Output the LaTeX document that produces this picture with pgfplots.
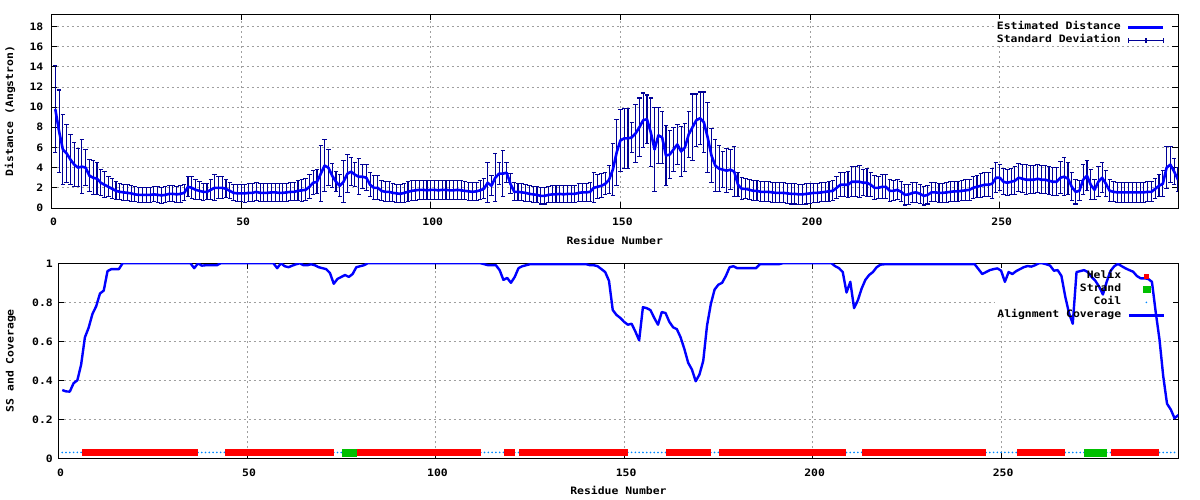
\documentclass[border=0pt]{standalone}
\usepackage{pgfplots}
\pgfplotsset{compat=1.18}
\usepackage{pgfplotstable}
\usepackage{fontspec}
\setmainfont{DejaVu Sans Mono}[FakeStretch=1.12]
\definecolor{errblue}{RGB}{0,0,150}
\definecolor{ssred}{RGB}{255,0,0}
\definecolor{ssgreen}{RGB}{0,192,0}
\definecolor{coilblue}{RGB}{0,136,255}
\definecolor{lblue}{RGB}{0,0,255}
\newcommand{\gpfont}{\bfseries\fontsize{10.2}{12}\selectfont}
\pgfplotsset{
 lineleg/.style={legend image code/.code={\draw[##1] (0pt,0pt) -- (35pt,0pt);}},
 errleg/.style={legend image code/.code={\draw[##1] (0pt,0pt) -- (35pt,0pt); \draw[##1] (0pt,-2.5pt)--(0pt,2.5pt); \draw[##1] (17.5pt,-2.5pt)--(17.5pt,2.5pt); \draw[##1] (35pt,-2.5pt)--(35pt,2.5pt);}},
 markleg/.style={legend image code/.code={\draw[mark repeat=2,mark phase=2,##1] plot coordinates {(0pt,0pt)(17.5pt,0pt)(35pt,0pt)};}},
 gp/.style={
   scale only axis, axis line style={line width=0.9pt},
   tick align=inside, major tick length=5.5pt, every tick/.style={black,line width=0.8pt},
   grid=major, major grid style={draw=gray!75, dash pattern=on 2pt off 3pt, line width=0.7pt},
   tick label style={font=\gpfont},
   label style={font=\gpfont},
   /pgf/number format/assume math mode=true,
   xticklabel style={inner sep=0pt, yshift=-10pt, xshift=2pt},
   legend cell align=right, legend plot pos=right,
   legend style={draw=none, fill=none, inner sep=0pt, column sep=6.5pt, row sep=0pt, font=\gpfont,
     nodes={inner sep=0pt, text height=9pt, text depth=4pt},
     at={(axis description cs:1,1)}, anchor=north east, xshift=-13pt, yshift=-6.4pt},
   set layers,
 }
}
\pgfplotstableread{
x y e
1 9.8 4.3
2 7.6 4.1
3 5.8 3.5
4 5.4 2.9
5 4.8 2.5
6 4.3 2.2
7 4.0 1.9
8 4.1 2.7
9 4.0 1.8
10 3.2 1.6
11 3.0 1.7
12 2.9 1.6
13 2.5 1.3
14 2.3 1.3
15 2.1 1.0
16 1.9 1.0
17 1.7 0.9
18 1.6 0.8
19 1.55 0.8
20 1.5 0.8
21 1.45 0.8
22 1.35 0.75
23 1.3 0.75
24 1.3 0.75
25 1.3 0.75
26 1.3 0.75
27 1.35 0.75
28 1.3 0.8
29 1.25 0.8
30 1.3 0.8
31 1.4 0.8
32 1.4 0.8
33 1.35 0.8
34 1.4 0.85
35 1.5 0.8
36 2.1 1.0
37 2.0 1.1
38 1.8 1.0
39 1.7 0.9
40 1.6 0.85
41 1.6 0.8
42 1.8 1.0
43 2.0 1.3
44 2.0 1.1
45 2.0 1.1
46 1.9 0.9
47 1.7 0.8
48 1.5 0.8
49 1.45 0.85
50 1.45 0.85
51 1.45 0.9
52 1.5 0.9
53 1.5 0.9
54 1.6 0.9
55 1.5 0.9
56 1.5 0.9
57 1.5 0.9
58 1.55 0.9
59 1.55 0.9
60 1.5 0.9
61 1.5 0.9
62 1.55 0.9
63 1.6 0.9
64 1.6 0.9
65 1.7 1.0
66 1.75 1.1
67 1.8 1.1
68 2.1 1.2
69 2.5 1.2
70 2.6 1.2
71 3.4 2.8
72 4.2 2.6
73 4.0 1.8
74 3.2 1.2
75 2.6 1.0
76 2.2 1.1
77 2.6 2.1
78 3.4 1.9
79 3.6 1.4
80 3.3 1.2
81 3.1 1.8
82 3.1 1.2
83 3.0 1.3
84 2.3 1.2
85 2.0 1.2
86 2.0 1.2
87 1.7 1.0
88 1.6 1.0
89 1.6 1.0
90 1.5 0.9
91 1.45 0.9
92 1.4 0.9
93 1.5 0.95
94 1.6 1.0
95 1.7 1.0
96 1.75 1.0
97 1.8 0.95
98 1.8 0.95
99 1.75 0.95
100 1.8 0.95
101 1.8 0.95
102 1.75 0.95
103 1.8 0.95
104 1.8 0.95
105 1.75 0.95
106 1.75 0.95
107 1.8 0.95
108 1.75 0.95
109 1.7 0.9
110 1.65 0.9
111 1.6 0.9
112 1.65 0.9
113 1.75 0.95
114 1.9 1.0
115 2.5 2.0
116 2.2 1.0
117 3.0 2.4
118 3.4 1.1
119 3.4 2.3
120 3.5 1.0
121 2.4 1.0
122 1.6 0.9
123 1.6 0.85
124 1.55 0.85
125 1.5 0.85
126 1.4 0.8
127 1.35 0.8
128 1.3 0.8
129 1.2 0.8
130 1.2 0.8
131 1.3 0.8
132 1.35 0.85
133 1.35 0.85
134 1.4 0.85
135 1.35 0.85
136 1.4 0.85
137 1.4 0.85
138 1.4 0.85
139 1.5 0.9
140 1.55 0.9
141 1.55 0.9
142 1.6 0.95
143 2.0 1.5
144 2.1 1.2
145 2.2 1.2
146 2.4 1.1
147 2.8 1.4
148 3.8 2.6
149 5.5 3.3
150 6.7 3.1
151 6.9 3.0
152 6.9 3.0
153 7.0 1.5
154 7.4 2.9
155 8.0 2.9
156 8.7 2.7
157 8.8 2.4
158 7.5 3.4
159 5.8 4.2
160 7.2 2.8
161 7.0 2.6
162 5.2 3.0
163 5.3 2.4
164 5.8 2.2
165 6.3 2.0
166 5.6 2.5
167 6.0 2.4
168 7.3 2.3
169 8.0 3.3
170 8.7 2.6
171 8.9 2.6
172 8.5 3.0
173 7.0 3.5
174 5.2 2.7
175 4.2 2.6
176 3.9 2.3
177 3.8 1.8
178 3.7 2.2
179 3.8 2.0
180 3.6 2.5
181 2.3 1.2
182 1.9 1.1
183 1.9 1.0
184 1.8 1.0
185 1.7 1.0
186 1.7 1.0
187 1.6 1.0
188 1.6 1.0
189 1.6 1.0
190 1.55 1.0
191 1.5 1.0
192 1.5 1.0
193 1.5 1.0
194 1.45 1.0
195 1.4 1.0
196 1.4 1.0
197 1.35 1.0
198 1.35 1.0
199 1.4 1.0
200 1.45 1.0
201 1.5 0.95
202 1.5 0.95
203 1.55 0.95
204 1.6 0.95
205 1.65 1.0
206 1.7 1.0
207 2.0 1.1
208 2.3 1.2
209 2.3 1.2
210 2.3 1.3
211 2.6 1.5
212 2.6 1.5
213 2.6 1.6
214 2.5 1.3
215 2.5 1.4
216 2.3 1.2
217 2.0 1.2
218 2.0 1.1
219 2.1 1.2
220 2.1 1.2
221 1.7 1.1
222 1.7 1.0
223 1.8 1.0
224 1.6 1.0
225 1.3 1.0
226 1.35 1.0
227 1.5 1.0
228 1.55 1.0
229 1.4 0.95
230 1.2 0.9
231 1.3 0.9
232 1.55 0.95
233 1.55 0.95
234 1.5 0.95
235 1.5 0.95
236 1.55 1.0
237 1.6 1.0
238 1.65 1.0
239 1.65 1.0
240 1.7 1.0
241 1.75 1.05
242 1.8 1.05
243 2.0 1.1
244 2.1 1.1
245 2.2 1.2
246 2.3 1.2
247 2.3 1.2
248 2.4 1.5
249 3.0 1.5
250 3.0 1.3
251 2.6 1.3
252 2.5 1.3
253 2.6 1.3
254 2.7 1.4
255 3.0 1.4
256 2.9 1.4
257 2.8 1.5
258 2.8 1.4
259 2.8 1.4
260 2.9 1.4
261 2.8 1.4
262 2.8 1.4
263 2.7 1.4
264 2.6 1.4
265 2.6 1.4
266 3.0 1.6
267 3.1 1.9
268 2.9 1.6
269 2.1 1.4
270 1.6 1.2
271 1.7 1.0
272 2.8 1.5
273 3.2 1.5
274 2.3 1.5
275 1.8 1.0
276 2.6 1.5
277 3.0 1.5
278 2.4 1.3
279 1.7 1.1
280 1.6 1.0
281 1.55 1.0
282 1.55 1.0
283 1.55 1.0
284 1.55 1.0
285 1.55 1.0
286 1.55 1.0
287 1.55 1.0
288 1.55 1.0
289 1.6 1.0
290 1.6 1.0
291 1.9 1.0
292 2.2 1.1
293 2.4 1.3
294 4.0 2.1
295 4.3 1.8
296 3.6 1.3
297 2.8 1.2
}\dist
\pgfplotstableread[row sep=\\]{
x c\\
1 0.35\\ 2 0.343\\ 3 0.342\\ 4 0.385\\ 5 0.40\\ 6 0.48\\ 7 0.62\\ 8 0.67\\ 9 0.74\\ 10 0.78\\
11 0.845\\ 12 0.86\\ 13 0.96\\ 14 0.97\\ 15 0.97\\ 16 0.97\\ 17 1.0\\ 18 1.0\\ 19 1.0\\ 20 1.0\\
21 1.0\\ 22 1.0\\ 23 1.0\\ 24 1.0\\ 25 1.0\\ 26 1.0\\ 27 1.0\\ 28 1.0\\ 29 1.0\\ 30 1.0\\
31 1.0\\ 32 1.0\\ 33 1.0\\ 34 1.0\\ 35 1.0\\ 36 0.975\\ 37 1.0\\ 38 0.988\\ 39 0.99\\ 40 0.99\\
41 0.99\\ 42 0.99\\ 43 1.0\\ 44 1.0\\ 45 1.0\\ 46 1.0\\ 47 1.0\\ 48 1.0\\ 49 1.0\\ 50 1.0\\
51 1.0\\ 52 1.0\\ 53 1.0\\ 54 1.0\\ 55 1.0\\ 56 1.0\\ 57 1.0\\ 58 0.975\\ 59 1.0\\ 60 0.985\\
61 0.98\\ 62 0.988\\ 63 0.995\\ 64 1.0\\ 65 0.99\\ 66 0.99\\ 67 0.995\\ 68 0.99\\ 69 0.98\\ 70 0.975\\
71 0.97\\ 72 0.95\\ 73 0.895\\ 74 0.92\\ 75 0.93\\ 76 0.94\\ 77 0.93\\ 78 0.945\\ 79 0.98\\ 80 0.985\\
81 0.99\\ 82 1.0\\ 83 1.0\\ 84 1.0\\ 85 1.0\\ 86 1.0\\ 87 1.0\\ 88 1.0\\ 89 1.0\\ 90 1.0\\
91 1.0\\ 92 1.0\\ 93 1.0\\ 94 1.0\\ 95 1.0\\ 96 1.0\\ 97 1.0\\ 98 1.0\\ 99 1.0\\ 100 1.0\\
101 1.0\\ 102 1.0\\ 103 1.0\\ 104 1.0\\ 105 1.0\\ 106 1.0\\ 107 1.0\\ 108 1.0\\ 109 1.0\\ 110 1.0\\
111 1.0\\ 112 1.0\\ 113 0.995\\ 114 0.99\\ 115 0.99\\ 116 0.99\\ 117 0.965\\ 118 0.915\\ 119 0.925\\ 120 0.90\\
121 0.93\\ 122 0.975\\ 123 0.985\\ 124 0.99\\ 125 0.995\\ 126 0.995\\ 127 0.995\\ 128 0.995\\ 129 0.995\\ 130 0.995\\
131 0.995\\ 132 0.995\\ 133 0.995\\ 134 0.995\\ 135 0.995\\ 136 0.995\\ 137 0.995\\ 138 0.995\\ 139 0.995\\ 140 0.995\\
141 0.99\\ 142 0.99\\ 143 0.985\\ 144 0.97\\ 145 0.955\\ 146 0.91\\ 147 0.76\\ 148 0.735\\ 149 0.72\\ 150 0.70\\
151 0.685\\ 152 0.69\\ 153 0.65\\ 154 0.605\\ 155 0.775\\ 156 0.77\\ 157 0.76\\ 158 0.72\\ 159 0.685\\ 160 0.75\\
161 0.745\\ 162 0.70\\ 163 0.672\\ 164 0.662\\ 165 0.62\\ 166 0.56\\ 167 0.49\\ 168 0.455\\ 169 0.395\\ 170 0.43\\
171 0.50\\ 172 0.68\\ 173 0.79\\ 174 0.865\\ 175 0.89\\ 176 0.90\\ 177 0.935\\ 178 0.98\\ 179 0.985\\ 180 0.975\\
181 0.975\\ 182 0.975\\ 183 0.975\\ 184 0.975\\ 185 0.975\\ 186 0.995\\ 187 0.995\\ 188 0.995\\ 189 0.995\\ 190 0.995\\
191 0.995\\ 192 1.0\\ 193 1.0\\ 194 1.0\\ 195 1.0\\ 196 1.0\\ 197 1.0\\ 198 1.0\\ 199 1.0\\ 200 1.0\\
201 1.0\\ 202 1.0\\ 203 1.0\\ 204 1.0\\ 205 1.0\\ 206 0.985\\ 207 0.975\\ 208 0.955\\ 209 0.85\\ 210 0.905\\
211 0.77\\ 212 0.81\\ 213 0.87\\ 214 0.915\\ 215 0.94\\ 216 0.955\\ 217 0.98\\ 218 0.993\\ 219 0.995\\ 220 0.995\\
221 0.995\\ 222 0.995\\ 223 0.995\\ 224 0.995\\ 225 0.995\\ 226 0.995\\ 227 0.995\\ 228 0.995\\ 229 0.995\\ 230 0.995\\
231 0.995\\ 232 0.995\\ 233 0.995\\ 234 0.995\\ 235 0.995\\ 236 0.995\\ 237 0.995\\ 238 0.995\\ 239 0.995\\ 240 0.995\\
241 0.995\\ 242 0.995\\ 243 0.995\\ 244 0.97\\ 245 0.945\\ 246 0.955\\ 247 0.965\\ 248 0.97\\ 249 0.974\\ 250 0.962\\
251 0.905\\ 252 0.955\\ 253 0.945\\ 254 0.96\\ 255 0.97\\ 256 0.98\\ 257 0.986\\ 258 0.983\\ 259 0.99\\ 260 1.0\\
261 1.0\\ 262 0.995\\ 263 0.988\\ 264 0.962\\ 265 0.965\\ 266 0.935\\ 267 0.83\\ 268 0.745\\ 269 0.69\\ 270 0.955\\
271 0.96\\ 272 0.965\\ 273 0.955\\ 274 0.93\\ 275 0.91\\ 276 0.88\\ 277 0.84\\ 278 0.905\\ 279 0.96\\ 280 0.985\\
281 0.997\\ 282 0.985\\ 283 0.974\\ 284 0.965\\ 285 0.957\\ 286 0.935\\ 287 0.923\\ 288 0.923\\ 289 0.92\\ 290 0.905\\
291 0.75\\ 292 0.61\\ 293 0.42\\ 294 0.28\\ 295 0.25\\ 296 0.205\\ 297 0.222\\
}\cov
\begin{document}
\begin{tikzpicture}
% ---------------- top panel ----------------
\begin{axis}[gp,
  at={(51.5pt,292pt)}, anchor=south west, width=1126.5pt, height=193.7pt,
  xmin=0, xmax=297, ymin=0, ymax=19.2,
  xtick={0,50,100,150,200,250}, xticklabels={0,50,100,150,200,250},
  ytick={0,2,4,6,8,10,12,14,16,18}, yticklabels={0,2,4,6,8,10,12,14,16,18},
  yticklabel style={inner sep=0pt, xshift=-8pt},
  xlabel={Residue Number}, ylabel={Distance (Angstron)},
  xlabel style={at={(axis description cs:0.5,-0.1678)}, anchor=center},
  ylabel style={at={(axis description cs:-0.0368,0.5)}, anchor=center},
  before end axis/.code={\begin{pgfonlayer}{pre main}\fill[white] (axis description cs:0.8376,0.8518) rectangle (axis description cs:0.9947,0.9757);\end{pgfonlayer}},
]
\addlegendimage{lineleg, lblue, line width=2.6pt}
\addlegendentry{Estimated Distance}
\addlegendimage{errleg, errblue, line width=1.1pt}
\addlegendentry{Standard Deviation}
\addplot[draw=none, mark=none, forget plot,
  error bars/.cd, y dir=both, y explicit,
  error bar style={draw=errblue, line width=1.1pt},
  error mark options={rotate=90, draw=errblue, mark size=2.2pt, line width=1.1pt}]
  table[x=x, y=y, y error=e] {\dist};
\addplot[lblue, line width=2.6pt, line join=round, mark=none, forget plot] table[x=x, y=y] {\dist};
\end{axis}
% ---------------- bottom panel ----------------
\begin{axis}[gp,
  at={(58.5pt,41.7pt)}, anchor=south west, width=1119.8pt, height=195pt,
  xmin=0, xmax=297, ymin=0, ymax=1,
  xtick={0,50,100,150,200,250}, xticklabels={0,50,100,150,200,250},
  ytick={0,0.2,0.4,0.6,0.8,1}, yticklabels={0,0.2,0.4,0.6,0.8,1},
  yticklabel style={inner sep=0pt, xshift=-5.5pt},
  xlabel={Residue Number}, ylabel={SS and Coverage},
  xlabel style={at={(axis description cs:0.5,-0.1662)}, anchor=center},
  ylabel style={at={(axis description cs:-0.0426,0.5)}, anchor=center},
  before end axis/.code={\begin{pgfonlayer}{pre main}\fill[white] (axis description cs:0.8363,0.730) rectangle (axis description cs:0.9944,0.976);\end{pgfonlayer}},
]
\addlegendimage{only marks, mark=square*, ssred, mark size=2.2pt, markleg}
\addlegendentry{Helix}
\addlegendimage{only marks, mark=square*, ssgreen, mark size=3.3pt, markleg}
\addlegendentry{Strand}
\addlegendimage{only marks, mark=*, coilblue, mark size=0.6pt, markleg}
\addlegendentry{Coil}
\addlegendimage{lineleg, lblue, line width=2.4pt}
\addlegendentry{Alignment Coverage}
\addplot[only marks, mark=*, coilblue, mark size=0.6pt, forget plot] coordinates {
(1,0.03)(2,0.03)(3,0.03)(4,0.03)(5,0.03)(6,0.03)
(37,0.03)(38,0.03)(39,0.03)(40,0.03)(41,0.03)(42,0.03)(43,0.03)(44,0.03)
(73,0.03)(74,0.03)(75,0.03)(79,0.03)
(112,0.03)(113,0.03)(114,0.03)(115,0.03)(116,0.03)(117,0.03)(118,0.03)(121,0.03)(122,0.03)
(151,0.03)(152,0.03)(153,0.03)(154,0.03)(155,0.03)(156,0.03)(157,0.03)(158,0.03)(159,0.03)(160,0.03)(161,0.03)
(173,0.03)(174,0.03)(175,0.03)
(209,0.03)(210,0.03)(211,0.03)(212,0.03)(213,0.03)
(246,0.03)(247,0.03)(248,0.03)(249,0.03)(250,0.03)(251,0.03)(252,0.03)(253,0.03)(254,0.03)
(267,0.03)(268,0.03)(269,0.03)(270,0.03)(271,0.03)(272,0.03)(278,0.03)(279,0.03)
(292,0.03)(293,0.03)(294,0.03)(295,0.03)(296,0.03)};
\addplot[only marks, mark=square*, ssred, mark size=2.9pt, forget plot] coordinates {
(7,0.03)(8,0.03)(9,0.03)(10,0.03)(11,0.03)(12,0.03)(13,0.03)(14,0.03)(15,0.03)(16,0.03)(17,0.03)(18,0.03)(19,0.03)(20,0.03)(21,0.03)
(22,0.03)(23,0.03)(24,0.03)(25,0.03)(26,0.03)(27,0.03)(28,0.03)(29,0.03)(30,0.03)(31,0.03)(32,0.03)(33,0.03)(34,0.03)(35,0.03)(36,0.03)
(45,0.03)(46,0.03)(47,0.03)(48,0.03)(49,0.03)(50,0.03)(51,0.03)(52,0.03)(53,0.03)(54,0.03)(55,0.03)(56,0.03)(57,0.03)(58,0.03)
(59,0.03)(60,0.03)(61,0.03)(62,0.03)(63,0.03)(64,0.03)(65,0.03)(66,0.03)(67,0.03)(68,0.03)(69,0.03)(70,0.03)(71,0.03)(72,0.03)
(80,0.03)(81,0.03)(82,0.03)(83,0.03)(84,0.03)(85,0.03)(86,0.03)(87,0.03)(88,0.03)(89,0.03)(90,0.03)(91,0.03)(92,0.03)(93,0.03)(94,0.03)(95,0.03)
(96,0.03)(97,0.03)(98,0.03)(99,0.03)(100,0.03)(101,0.03)(102,0.03)(103,0.03)(104,0.03)(105,0.03)(106,0.03)(107,0.03)(108,0.03)(109,0.03)(110,0.03)(111,0.03)
(119,0.03)(120,0.03)
(123,0.03)(124,0.03)(125,0.03)(126,0.03)(127,0.03)(128,0.03)(129,0.03)(130,0.03)(131,0.03)(132,0.03)(133,0.03)(134,0.03)(135,0.03)(136,0.03)
(137,0.03)(138,0.03)(139,0.03)(140,0.03)(141,0.03)(142,0.03)(143,0.03)(144,0.03)(145,0.03)(146,0.03)(147,0.03)(148,0.03)(149,0.03)(150,0.03)
(162,0.03)(163,0.03)(164,0.03)(165,0.03)(166,0.03)(167,0.03)(168,0.03)(169,0.03)(170,0.03)(171,0.03)(172,0.03)
(176,0.03)(177,0.03)(178,0.03)(179,0.03)(180,0.03)(181,0.03)(182,0.03)(183,0.03)(184,0.03)(185,0.03)(186,0.03)(187,0.03)(188,0.03)(189,0.03)(190,0.03)(191,0.03)(192,0.03)
(193,0.03)(194,0.03)(195,0.03)(196,0.03)(197,0.03)(198,0.03)(199,0.03)(200,0.03)(201,0.03)(202,0.03)(203,0.03)(204,0.03)(205,0.03)(206,0.03)(207,0.03)(208,0.03)
(214,0.03)(215,0.03)(216,0.03)(217,0.03)(218,0.03)(219,0.03)(220,0.03)(221,0.03)(222,0.03)(223,0.03)(224,0.03)(225,0.03)(226,0.03)(227,0.03)(228,0.03)(229,0.03)
(230,0.03)(231,0.03)(232,0.03)(233,0.03)(234,0.03)(235,0.03)(236,0.03)(237,0.03)(238,0.03)(239,0.03)(240,0.03)(241,0.03)(242,0.03)(243,0.03)(244,0.03)(245,0.03)
(255,0.03)(256,0.03)(257,0.03)(258,0.03)(259,0.03)(260,0.03)(261,0.03)(262,0.03)(263,0.03)(264,0.03)(265,0.03)(266,0.03)
(280,0.03)(281,0.03)(282,0.03)(283,0.03)(284,0.03)(285,0.03)(286,0.03)(287,0.03)(288,0.03)(289,0.03)(290,0.03)(291,0.03)};
\addplot[only marks, mark=square*, ssgreen, mark size=3.3pt, forget plot] coordinates {
(76,0.03)(77,0.03)(78,0.03)(273,0.03)(274,0.03)(275,0.03)(276,0.03)(277,0.03)};
\addplot[lblue, line width=2.4pt, line join=round, mark=none, forget plot] table[x=x, y=c] {\cov};
\end{axis}
\pgfresetboundingbox
\path[use as bounding box] (0,0) rectangle (1200pt,500pt);
\end{tikzpicture}
\end{document}
